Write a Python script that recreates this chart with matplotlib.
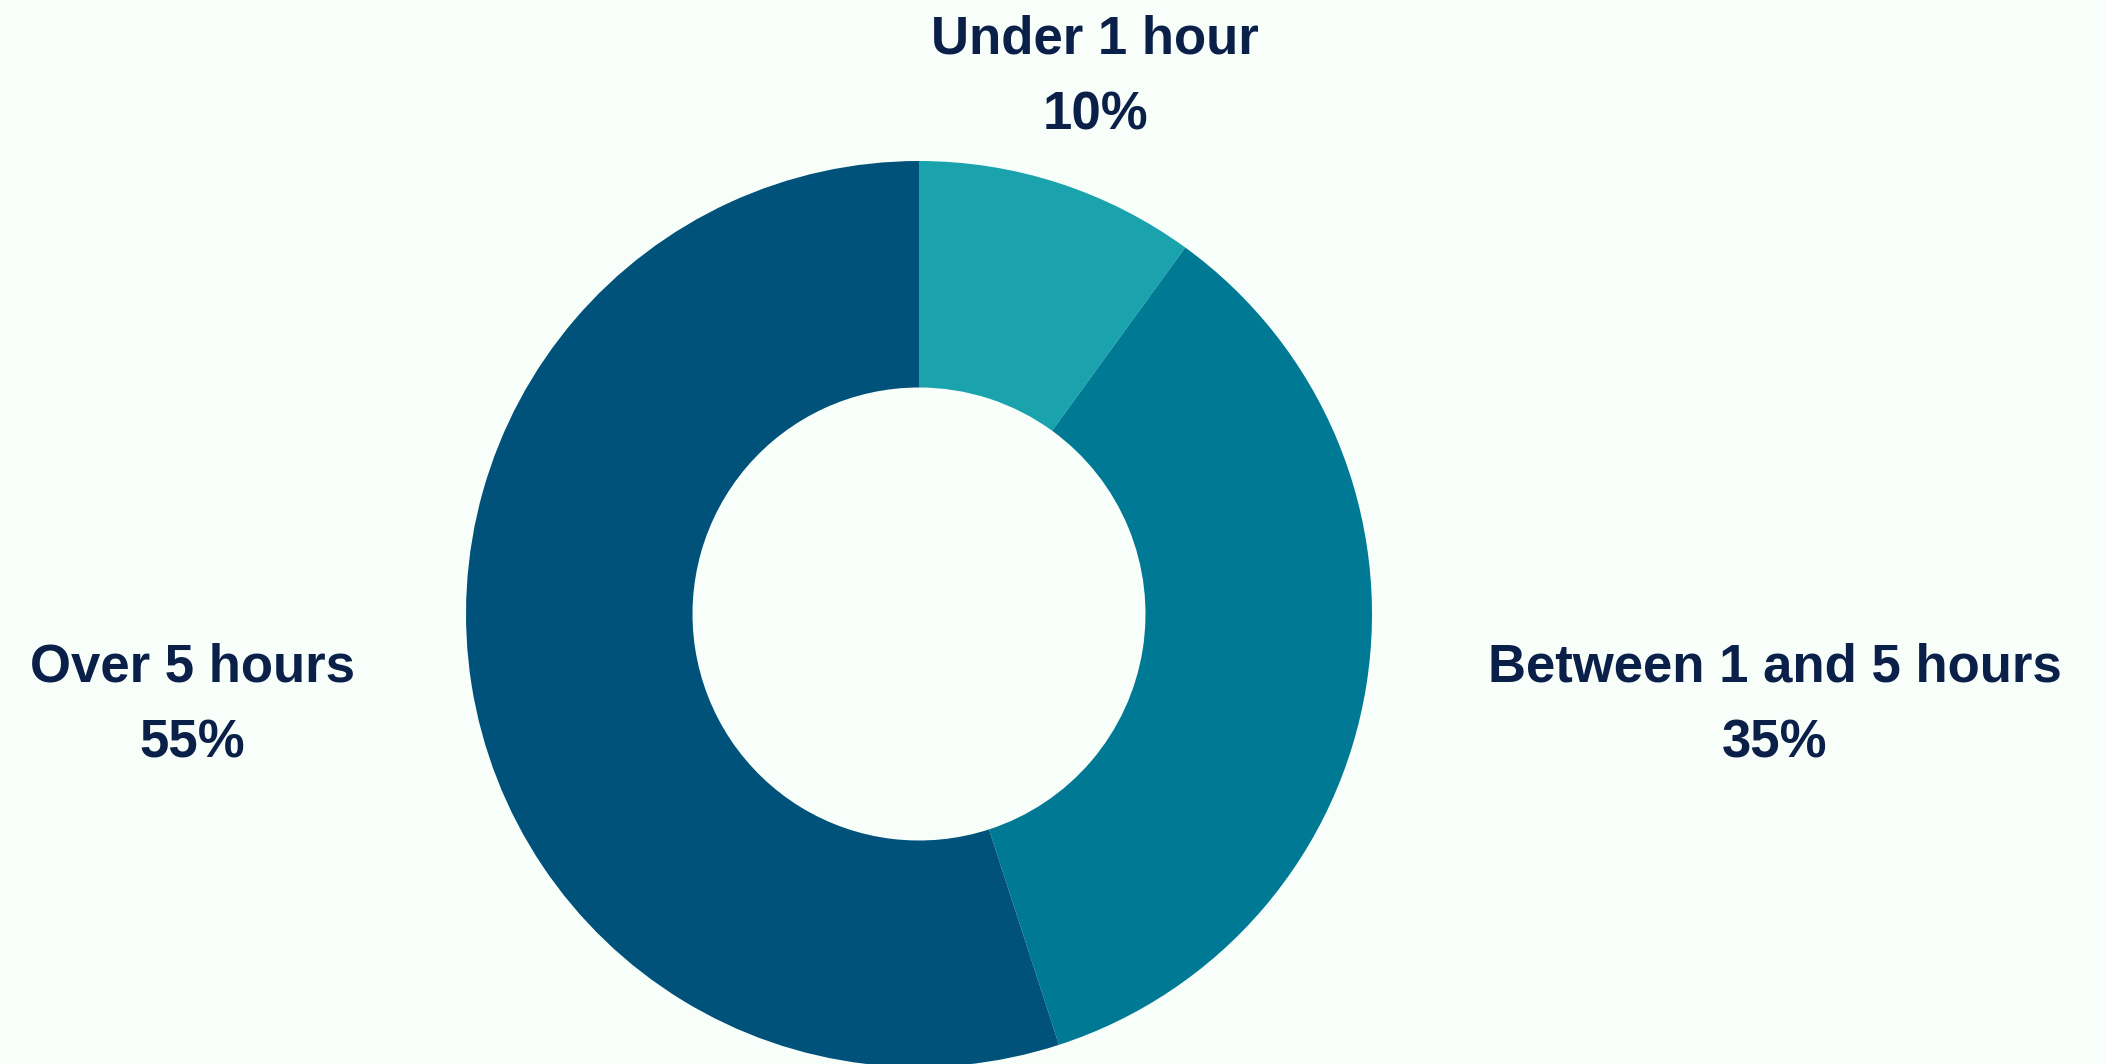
import matplotlib.pyplot as plt

# time spent per week
labels = ['Under 1 hour', 'Between 1 and 5 hours', 'Over 5 hours']
shares = [10, 35, 55]
colors = ['#1aa3ad', '#007995', '#00527a']

# baseline of the first label line (pixel coordinates, y measured from top)
label_pos = [(1095, 53), (1775, 681), (192, 681)]

W, H = 2105, 1064
bg = '#f8fffb'
text_color = '#0b2049'

fig = plt.figure(figsize=(W / 100, H / 100), dpi=100, facecolor=bg)
ax = fig.add_axes([0, 0, 1, 1])
ax.set_facecolor(bg)
ax.axis('off')

ax.pie(shares, colors=colors, startangle=90, counterclock=False,
       center=(919, H - 614), radius=453,
       wedgeprops=dict(width=453 / 2, linewidth=0))
ax.set_xlim(0, W)
ax.set_ylim(0, H)
ax.set_aspect('auto')

for name, val, (x, y) in zip(labels, shares, label_pos):
    ax.text(x, H - y, name, ha='center', va='baseline', fontsize=38,
            fontweight='bold', family='Liberation Sans', color=text_color)
    ax.text(x, H - y - 76, f'{val}%', ha='center', va='baseline', fontsize=38,
            fontweight='bold', family='Liberation Sans', color=text_color)

fig.savefig('out.png', dpi=100, facecolor=bg)
